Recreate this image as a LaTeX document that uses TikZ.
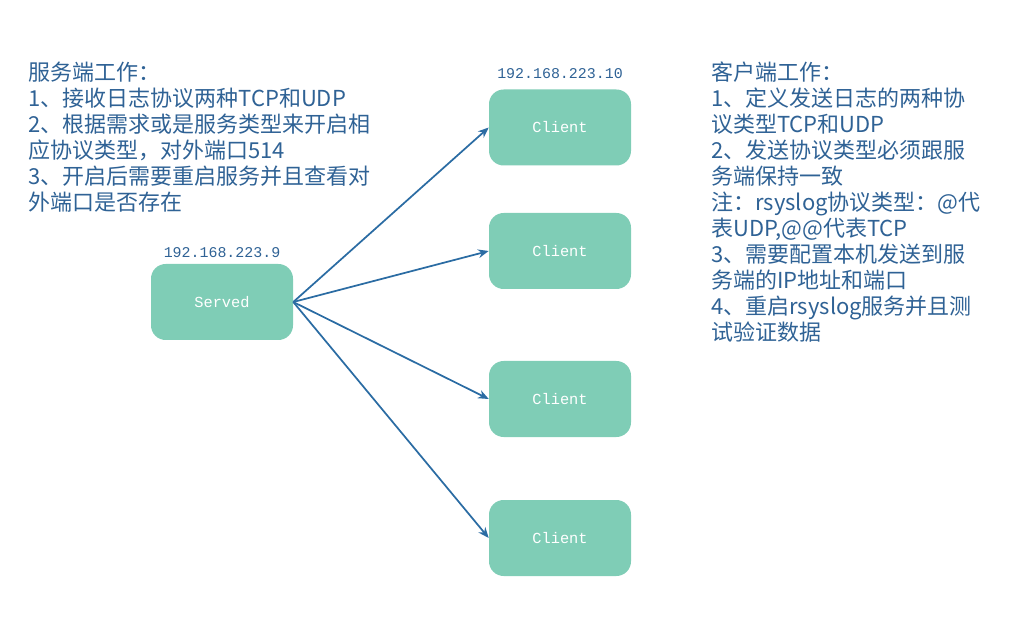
\documentclass[tikz,border=0pt]{standalone}
\usepackage{fontspec}
\newfontfamily\cjkfont{Noto Sans CJK SC}
\newfontfamily\labelfont{Liberation Mono}
\usetikzlibrary{arrows.meta, positioning}
\definecolor{hostfill}{HTML}{7FCDB6}
\definecolor{linkblue}{HTML}{2B6CA3}
\definecolor{noteblue}{HTML}{2F6295}

\begin{document}
\begin{tikzpicture}[x=0.75pt, y=-0.75pt, >={Stealth[length=8pt, width=6.5pt]},
    host/.style={rectangle, rounded corners=11pt, fill=hostfill, minimum width=106.5pt, minimum height=57pt,
      text=white, font=\labelfont\fontsize{11.5}{13}\selectfont},
    ip/.style={text=noteblue, inner sep=0pt, font=\labelfont\fontsize{11.2}{13}\selectfont},
    note/.style={anchor=north west, align=left, inner sep=0pt, text=noteblue,
      font=\cjkfont\fontsize{16.5}{19.5}\selectfont},
    link/.style={->, draw=linkblue, line width=1.3pt}]
  \useasboundingbox (0,0) rectangle (1017,641);

  \node[host] (S)  at (222,302)   {Served};
  \node[host] (C1) at (560,127.5) {Client};
  \node[host] (C2) at (560,251)   {Client};
  \node[host] (C3) at (560,399)   {Client};
  \node[host] (C4) at (560,538)   {Client};

  \node[ip, above=4.5pt of S]  (ipS)  {192.168.223.9};
  \node[ip, above=8pt of C1] (ipC1) {192.168.223.10};

  \foreach \c in {C1, C2, C3, C4}
    \draw[link] (S.east) -- (\c.west);

  \node[note] (server) at (28,62) {服务端工作：\\1、接收日志协议两种TCP和UDP\\2、根据需求或是服务类型来开启相\\应协议类型，对外端口514\\3、开启后需要重启服务并且查看对\\外端口是否存在};
  \node[note] (client) at (711,62) {客户端工作：\\1、定义发送日志的两种协\\议类型TCP和UDP\\2、发送协议类型必须跟服\\务端保持一致\\注：rsyslog协议类型：@代\\表UDP,@@代表TCP\\3、需要配置本机发送到服\\务端的IP地址和端口\\4、重启rsyslog服务并且测\\试验证数据};
\end{tikzpicture}
\end{document}
